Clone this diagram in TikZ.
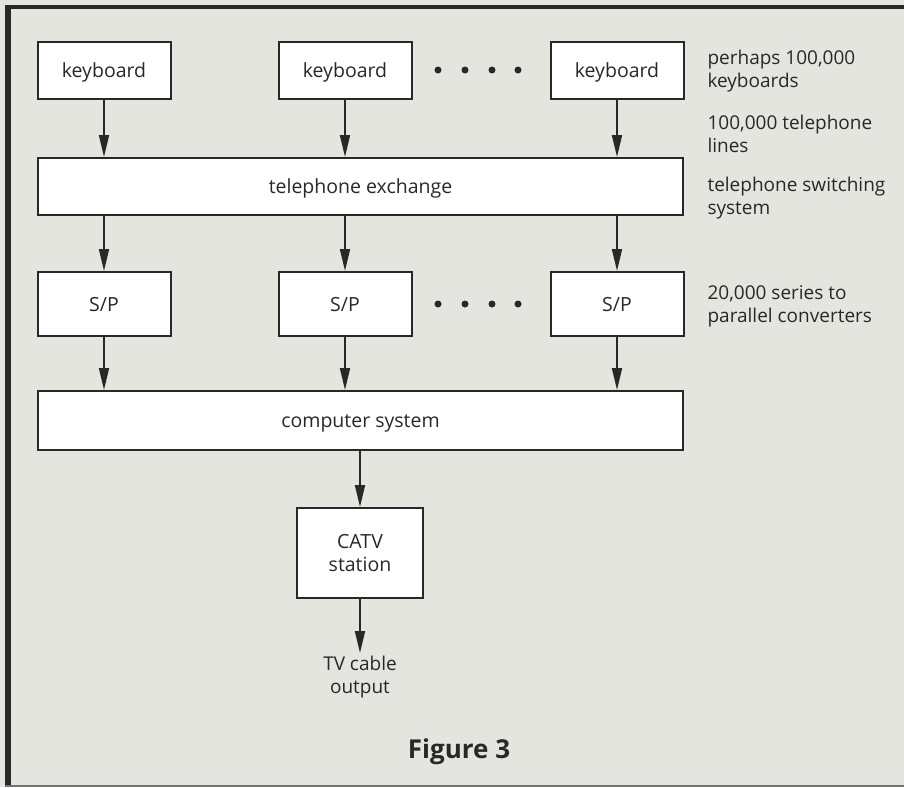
\documentclass[tikz,border=0pt]{standalone}
\usepackage{fontspec}
\setmainfont{Open Sans}
\usetikzlibrary{arrows.meta, positioning}
\definecolor{paper}{RGB}{228,229,223}
\definecolor{ink}{RGB}{40,40,40}

\begin{document}
\begin{tikzpicture}[
    x=1pt, y=-1pt,
    box/.style={draw=ink,fill=white,line width=2pt,inner sep=0pt,
                align=center,text=ink,font=\fontsize{19.5}{23}\selectfont},
    unit/.style={box,minimum width=133pt,minimum height=57pt,
                 text height=16pt,text depth=2pt},
    wide/.style={box,minimum width=645pt,minimum height=58pt,
                 text height=16pt,text depth=2pt},
    note/.style={anchor=west,align=left,text=ink,
                 font=\fontsize{19}{23}\selectfont},
    arr/.style={-{Triangle[length=22pt,width=10pt]},draw=ink,line width=1.8pt}
]
  % page and frame
  \fill[paper] (0,0) rectangle (904,787);
  \useasboundingbox (0,0) rectangle (904,787);
  \draw[ink,line width=6pt] (8,5) -- (8,787);
  \draw[ink,line width=4pt] (5,7) -- (904,7);
  \draw[black!55,line width=2pt] (5,786) -- (904,786);

  % keyboards
  \node[unit] (kbdA) at (104,70) {keyboard};
  \node[unit] (kbdB) at (345,70) {keyboard};
  \node[unit] (kbdC) at (617,70) {keyboard};

  % exchange
  \node[wide,minimum height=57pt] (exch) at (360.5,186.5) {telephone exchange};

  % converters
  \node[unit,minimum height=64pt] (spA) at (104,304) {S/P};
  \node[unit,minimum height=64pt] (spB) at (345,304) {S/P};
  \node[unit,minimum height=64pt] (spC) at (617,304) {S/P};

  % computer and station
  \node[wide,minimum height=59pt] (comp) at (360.5,420.5) {computer system};
  \node[box,minimum width=126pt,minimum height=90pt] (catv) at (360,553) {CATV\\station};
  \coordinate (tvend) at (360,653);
  \node[note,anchor=north,align=center] (tvout) at (360,653) {TV cable\\output};

  % dots
  \foreach \dx in {438,465,492,518} {
    \fill[ink] (\dx,70) circle (3.5pt);
    \fill[ink] (\dx,304) circle (3.5pt);
  }

  % arrows
  \draw[arr] (kbdA) -- (kbdA |- exch.north);
  \draw[arr] (kbdB) -- (kbdB |- exch.north);
  \draw[arr] (kbdC) -- (kbdC |- exch.north);
  \draw[arr] (spA |- exch.south) -- (spA.north);
  \draw[arr] (spB |- exch.south) -- (spB.north);
  \draw[arr] (spC |- exch.south) -- (spC.north);
  \draw[arr] (spA) -- (spA |- comp.north);
  \draw[arr] (spB) -- (spB |- comp.north);
  \draw[arr] (spC) -- (spC |- comp.north);
  \draw[arr] (catv |- comp.south) -- (catv.north);
  \draw[arr] (catv) -- (tvend);

  % notes on the right
  \node[note] (nkbd) at (704,71) {perhaps 100,000\\keyboards};
  \node[note] (nline) at (704,134) {100,000 telephone\\lines};
  \node[note] (nexch) at (704,198) {telephone switching\\system};
  \node[note] (nsp) at (704,306) {20,000 series to\\parallel converters};

  \node[text=ink,font=\fontsize{26}{30}\selectfont\bfseries] (cap) at (459,752) {Figure 3};
\end{tikzpicture}
\end{document}
